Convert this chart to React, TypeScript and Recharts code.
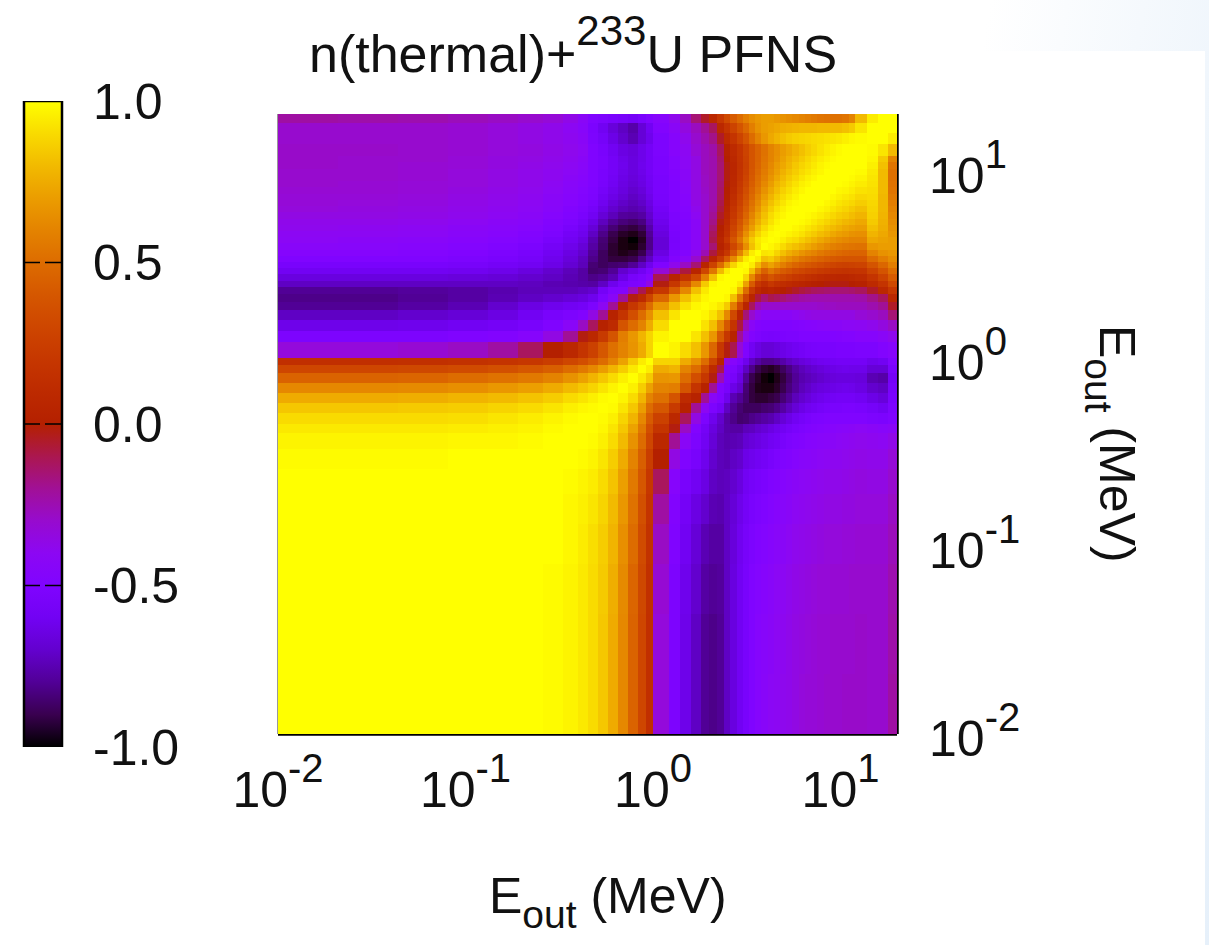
import React from "react";
import { ScatterChart, Scatter, XAxis, YAxis, BarChart, Bar, ReferenceLine } from "recharts";

// Cell edges of the energy grid, as log10(E / MeV)
const logEnergyEdges = [-2, -1.68, -1.36, -1.093, -0.88, -0.72, -0.587, -0.48, -0.4, -0.347, -0.293, -0.24, -0.187, -0.133, -0.08, -0.038, 0,
  0.085, 0.144, 0.202, 0.256, 0.298, 0.341, 0.378, 0.41, 0.448, 0.48, 0.512, 0.544, 0.576, 0.613, 0.645, 0.677, 0.709, 0.741, 0.778, 0.81, 0.842,
  0.874, 0.912, 0.944, 0.976, 1.008, 1.045, 1.077, 1.141, 1.2, 1.253, 1.301];

const energyTicks = [0.01, 0.1, 1, 10];
const energyExponents = ["-2", "-1", "0", "1"];
const colorbarTicks = [-1, -0.5, 0, 0.5, 1];
const colorbarLabels = ["-1.0", "-0.5", "0.0", "0.5", "1.0"];
const colorbarStops = [1, 0.9, 0.8, 0.7, 0.6, 0.5, 0.4, 0.3, 0.2, 0.1, 0, -0.1, -0.2, -0.3, -0.4, -0.5, -0.6, -0.7, -0.8, -0.9, -1];
const colorbarRange = [{ name: "corr", range: [-1, 1] }];

// Lower triangle of the symmetric correlation matrix: row i holds columns 0..i
const row00 = [1];
const row01 = [1, 1];
const row02 = [1, 1, 1];
const row03 = [1, 1, 1, 1];
const row04 = [1, 1, 1, 1, 1];
const row05 = [1, 1, 1, 1, 1, 1];
const row06 = [0.99, 0.99, 0.99, 1, 1, 1, 1];
const row07 = [0.97, 0.97, 0.97, 0.98, 0.98, 0.99, 1, 1];
const row08 = [0.94, 0.94, 0.94, 0.95, 0.96, 0.97, 0.99, 1, 1];
const row09 = [0.9, 0.9, 0.9, 0.91, 0.93, 0.95, 0.97, 0.99, 1, 1];
const row10 = [0.84, 0.84, 0.85, 0.86, 0.88, 0.9, 0.93, 0.96, 0.98, 0.99, 1];
const row11 = [0.75, 0.75, 0.76, 0.78, 0.8, 0.83, 0.86, 0.9, 0.93, 0.96, 0.99, 1];
const row12 = [0.62, 0.62, 0.63, 0.65, 0.68, 0.71, 0.75, 0.8, 0.84, 0.88, 0.93, 0.97, 1];
const row13 = [0.46, 0.46, 0.47, 0.5, 0.53, 0.56, 0.6, 0.66, 0.72, 0.78, 0.84, 0.9, 0.96, 1];
const row14 = [0.3, 0.3, 0.31, 0.33, 0.36, 0.4, 0.44, 0.5, 0.56, 0.62, 0.7, 0.78, 0.86, 0.94, 1];
const row15 = [0.14, 0.14, 0.15, 0.16, 0.18, 0.2, 0.24, 0.3, 0.35, 0.42, 0.5, 0.6, 0.72, 0.85, 0.95, 1];
const row16 = [-0.33, -0.33, -0.31, -0.28, -0.22, -0.12, 0, 0.08, 0.18, 0.27, 0.4, 0.52, 0.6, 0.67, 0.75, 0.88, 1];
const row17 = [-0.52, -0.52, -0.52, -0.5, -0.48, -0.45, -0.35, -0.2, -0.02, 0.08, 0.22, 0.38, 0.58, 0.68, 0.78, 0.88, 0.97, 1];
const row18 = [-0.63, -0.63, -0.62, -0.6, -0.58, -0.55, -0.5, -0.42, -0.28, -0.12, 0.02, 0.1, 0.38, 0.5, 0.6, 0.75, 0.9, 1, 1];
const row19 = [-0.72, -0.72, -0.7, -0.68, -0.65, -0.6, -0.55, -0.52, -0.48, -0.35, -0.2, 0.03, 0.18, 0.35, 0.5, 0.65, 0.82, 0.93, 1, 1];
const row20 = [-0.8, -0.8, -0.78, -0.75, -0.7, -0.65, -0.62, -0.6, -0.58, -0.52, -0.4, -0.2, 0.03, 0.2, 0.32, 0.5, 0.68, 0.82, 0.92, 0.98, 1];
const row21 = [-0.82, -0.82, -0.8, -0.78, -0.75, -0.72, -0.7, -0.68, -0.66, -0.62, -0.52, -0.42, -0.2, -0.02, 0.1, 0.28, 0.48, 0.68, 0.82, 0.92, 0.98, 1];
const row22 = [-0.8, -0.8, -0.79, -0.78, -0.76, -0.74, -0.74, -0.74, -0.72, -0.7, -0.58, -0.5, -0.48, -0.25, -0.1, 0.05, 0.2, 0.42, 0.62, 0.82, 0.94, 1, 1];
const row23 = [-0.72, -0.72, -0.72, -0.72, -0.72, -0.73, -0.75, -0.76, -0.77, -0.78, -0.72, -0.62, -0.55, -0.52, -0.5, -0.35, -0.02, 0.2, 0.4, 0.62, 0.85, 0.98, 1, 1];
const row24 = [-0.66, -0.66, -0.66, -0.67, -0.68, -0.7, -0.72, -0.75, -0.78, -0.82, -0.8, -0.75, -0.64, -0.56, -0.52, -0.45, -0.1, 0.04, 0.18, 0.32, 0.58, 0.82, 0.98, 1, 1];
const row25 = [-0.6, -0.6, -0.6, -0.61, -0.63, -0.66, -0.7, -0.74, -0.78, -0.86, -0.85, -0.8, -0.7, -0.65, -0.6, -0.52, -0.32, -0.2, -0.08, 0.05, 0.3, 0.55, 0.8, 0.95, 1, 1];
const row26 = [-0.55, -0.55, -0.55, -0.56, -0.58, -0.6, -0.64, -0.69, -0.74, -0.85, -0.88, -0.86, -0.85, -0.8, -0.72, -0.62, -0.5, -0.38, -0.28, -0.15, 0.05, 0.28, 0.5, 0.72, 0.88, 0.98, 1];
const row27 = [-0.5, -0.5, -0.5, -0.52, -0.54, -0.57, -0.62, -0.67, -0.73, -0.82, -0.88, -0.92, -0.92, -0.9, -0.82, -0.72, -0.6, -0.48, -0.42, -0.3, -0.12, 0.05, 0.22, 0.42, 0.62, 0.82, 0.95, 1];
const row28 = [-0.46, -0.46, -0.47, -0.49, -0.52, -0.55, -0.6, -0.65, -0.7, -0.8, -0.88, -0.94, -0.97, -0.95, -0.9, -0.78, -0.65, -0.52, -0.48, -0.38, -0.25, -0.08, 0.08, 0.2, 0.4, 0.6, 0.8, 0.95, 1];
const row29 = [-0.43, -0.44, -0.45, -0.47, -0.5, -0.53, -0.58, -0.63, -0.68, -0.78, -0.86, -0.94, -0.98, -0.99, -0.94, -0.82, -0.68, -0.54, -0.5, -0.42, -0.3, -0.15, 0.02, 0.12, 0.3, 0.45, 0.65, 0.82, 0.93, 1];
const row30 = [-0.41, -0.42, -0.43, -0.45, -0.47, -0.5, -0.55, -0.6, -0.65, -0.76, -0.85, -0.92, -0.98, -1, -0.96, -0.82, -0.68, -0.55, -0.5, -0.42, -0.3, -0.1, 0.05, 0.2, 0.38, 0.55, 0.72, 0.85, 0.94, 0.98, 1];
const row31 = [-0.4, -0.4, -0.41, -0.43, -0.45, -0.48, -0.52, -0.58, -0.62, -0.72, -0.82, -0.9, -0.95, -0.97, -0.93, -0.8, -0.66, -0.54, -0.5, -0.42, -0.3, -0.12, 0.02, 0.15, 0.32, 0.48, 0.65, 0.78, 0.88, 0.95, 0.99, 1];
const row32 = [-0.38, -0.39, -0.4, -0.42, -0.44, -0.46, -0.5, -0.55, -0.6, -0.68, -0.78, -0.85, -0.9, -0.92, -0.88, -0.77, -0.64, -0.53, -0.5, -0.42, -0.3, -0.15, 0, 0.12, 0.28, 0.42, 0.58, 0.7, 0.82, 0.9, 0.96, 0.99, 1];
const row33 = [-0.37, -0.37, -0.38, -0.4, -0.42, -0.44, -0.48, -0.52, -0.57, -0.64, -0.73, -0.8, -0.84, -0.86, -0.83, -0.73, -0.62, -0.52, -0.5, -0.42, -0.3, -0.18, -0.02, 0.1, 0.24, 0.38, 0.52, 0.65, 0.76, 0.85, 0.92, 0.97, 1, 1];
const row34 = [-0.35, -0.35, -0.36, -0.38, -0.4, -0.42, -0.46, -0.5, -0.54, -0.6, -0.68, -0.74, -0.79, -0.8, -0.78, -0.7, -0.6, -0.52, -0.48, -0.4, -0.3, -0.2, -0.05, 0.07, 0.2, 0.33, 0.47, 0.6, 0.72, 0.82, 0.9, 0.95, 0.98, 1, 1];
const row35 = [-0.33, -0.34, -0.35, -0.37, -0.39, -0.41, -0.44, -0.48, -0.52, -0.57, -0.64, -0.7, -0.74, -0.76, -0.74, -0.67, -0.58, -0.5, -0.47, -0.38, -0.3, -0.22, -0.08, 0.05, 0.18, 0.3, 0.43, 0.55, 0.67, 0.78, 0.86, 0.92, 0.96, 0.99, 1, 1];
const row36 = [-0.32, -0.33, -0.34, -0.36, -0.38, -0.4, -0.43, -0.46, -0.5, -0.54, -0.61, -0.67, -0.71, -0.74, -0.71, -0.65, -0.56, -0.5, -0.46, -0.36, -0.3, -0.23, -0.1, 0.03, 0.15, 0.27, 0.4, 0.52, 0.63, 0.74, 0.82, 0.88, 0.93, 0.97, 0.99, 1, 1];
const row37 = [-0.32, -0.32, -0.33, -0.35, -0.37, -0.39, -0.42, -0.45, -0.48, -0.52, -0.59, -0.64, -0.68, -0.72, -0.69, -0.63, -0.55, -0.5, -0.45, -0.35, -0.3, -0.24, -0.12, 0.01, 0.12, 0.25, 0.37, 0.49, 0.6, 0.7, 0.78, 0.85, 0.9, 0.94, 0.97, 1, 1, 1];
const row38 = [-0.31, -0.31, -0.32, -0.34, -0.36, -0.38, -0.41, -0.44, -0.47, -0.51, -0.57, -0.62, -0.66, -0.7, -0.67, -0.61, -0.54, -0.5, -0.44, -0.35, -0.29, -0.24, -0.13, 0, 0.1, 0.22, 0.34, 0.46, 0.56, 0.66, 0.74, 0.81, 0.87, 0.91, 0.95, 0.98, 1, 1, 1];
const row39 = [-0.3, -0.31, -0.32, -0.33, -0.35, -0.37, -0.4, -0.43, -0.46, -0.5, -0.55, -0.6, -0.65, -0.68, -0.65, -0.6, -0.54, -0.5, -0.43, -0.35, -0.28, -0.24, -0.14, -0.01, 0.08, 0.2, 0.31, 0.43, 0.53, 0.62, 0.7, 0.78, 0.83, 0.88, 0.92, 0.96, 0.98, 1, 1, 1];
const row40 = [-0.3, -0.3, -0.31, -0.33, -0.35, -0.37, -0.39, -0.42, -0.45, -0.5, -0.54, -0.59, -0.64, -0.67, -0.64, -0.59, -0.54, -0.49, -0.42, -0.35, -0.28, -0.24, -0.15, -0.02, 0.07, 0.18, 0.29, 0.41, 0.51, 0.59, 0.67, 0.74, 0.8, 0.85, 0.89, 0.93, 0.96, 0.98, 1, 1, 1];
const row41 = [-0.3, -0.3, -0.31, -0.33, -0.35, -0.37, -0.39, -0.41, -0.44, -0.5, -0.54, -0.58, -0.63, -0.66, -0.63, -0.58, -0.53, -0.48, -0.42, -0.35, -0.27, -0.24, -0.15, -0.02, 0.06, 0.17, 0.27, 0.39, 0.49, 0.57, 0.64, 0.71, 0.77, 0.82, 0.86, 0.9, 0.93, 0.96, 0.98, 1, 1, 1];
const row42 = [-0.29, -0.3, -0.31, -0.32, -0.34, -0.36, -0.38, -0.4, -0.43, -0.5, -0.53, -0.58, -0.62, -0.66, -0.62, -0.58, -0.53, -0.47, -0.41, -0.35, -0.27, -0.24, -0.15, -0.02, 0.06, 0.16, 0.26, 0.38, 0.47, 0.55, 0.62, 0.69, 0.74, 0.79, 0.84, 0.88, 0.91, 0.94, 0.97, 0.99, 1, 1, 1];
const row43 = [-0.29, -0.3, -0.3, -0.32, -0.34, -0.35, -0.37, -0.39, -0.42, -0.5, -0.53, -0.58, -0.63, -0.66, -0.63, -0.58, -0.53, -0.47, -0.41, -0.35, -0.27, -0.24, -0.14, 0, 0.08, 0.17, 0.27, 0.38, 0.46, 0.54, 0.6, 0.66, 0.72, 0.77, 0.81, 0.85, 0.89, 0.92, 0.95, 0.97, 0.99, 1, 1, 1];
const row44 = [-0.29, -0.29, -0.3, -0.31, -0.33, -0.34, -0.36, -0.38, -0.41, -0.5, -0.54, -0.6, -0.65, -0.67, -0.63, -0.58, -0.52, -0.45, -0.4, -0.32, -0.27, -0.23, -0.12, 0.02, 0.1, 0.18, 0.28, 0.38, 0.46, 0.53, 0.6, 0.65, 0.7, 0.74, 0.78, 0.82, 0.86, 0.89, 0.92, 0.95, 0.97, 0.99, 1, 1, 1];
const row45 = [-0.3, -0.3, -0.3, -0.31, -0.33, -0.35, -0.37, -0.39, -0.42, -0.52, -0.57, -0.64, -0.7, -0.75, -0.68, -0.62, -0.52, -0.45, -0.38, -0.3, -0.24, -0.18, -0.05, 0.1, 0.18, 0.28, 0.38, 0.5, 0.6, 0.68, 0.74, 0.78, 0.82, 0.85, 0.87, 0.88, 0.89, 0.9, 0.91, 0.92, 0.93, 0.94, 0.96, 0.98, 0.99, 1];
const row46 = [-0.3, -0.3, -0.3, -0.31, -0.33, -0.35, -0.37, -0.4, -0.44, -0.53, -0.6, -0.67, -0.72, -0.77, -0.68, -0.6, -0.48, -0.42, -0.34, -0.27, -0.2, -0.12, 0.08, 0.18, 0.28, 0.38, 0.48, 0.58, 0.66, 0.7, 0.72, 0.74, 0.76, 0.77, 0.78, 0.79, 0.79, 0.79, 0.8, 0.8, 0.8, 0.8, 0.82, 0.85, 0.93, 1, 1];
const row47 = [-0.22, -0.23, -0.24, -0.26, -0.28, -0.3, -0.32, -0.36, -0.42, -0.5, -0.52, -0.54, -0.56, -0.58, -0.54, -0.5, -0.45, -0.38, -0.28, -0.15, -0.05, 0.08, 0.2, 0.32, 0.42, 0.5, 0.58, 0.64, 0.68, 0.7, 0.7, 0.68, 0.66, 0.64, 0.62, 0.6, 0.58, 0.56, 0.54, 0.53, 0.52, 0.52, 0.54, 0.6, 0.8, 0.95, 1, 1];

const lowerRows = [row00, row01, row02, row03, row04, row05, row06, row07, row08, row09, row10, row11, row12, row13, row14, row15,
  row16, row17, row18, row19, row20, row21, row22, row23, row24, row25, row26, row27, row28, row29, row30, row31,
  row32, row33, row34, row35, row36, row37, row38, row39, row40, row41, row42, row43, row44, row45, row46, row47];

type CellPoint = { ex: number; ey: number; value: number; logW: number; logH: number };
const cellPoints: CellPoint[] = [];
const cellCount = logEnergyEdges.length - 1;
for (let i = 0; i < cellCount; i++) {
  for (let j = 0; j < cellCount; j++) {
    const value = i >= j ? lowerRows[i][j] : lowerRows[j][i];
    cellPoints.push({
      ex: Math.pow(10, (logEnergyEdges[j] + logEnergyEdges[j + 1]) / 2),
      ey: Math.pow(10, (logEnergyEdges[i] + logEnergyEdges[i + 1]) / 2),
      value: value === undefined ? 1 : value,
      logW: logEnergyEdges[j + 1] - logEnergyEdges[j],
      logH: logEnergyEdges[i + 1] - logEnergyEdges[i],
    });
  }
}

// gnuplot's default pm3d palette (rgbformulae 7,5,15)
const paletteColor = (v: number) => {
  const t = Math.max(0, Math.min(1, (v + 1) / 2));
  const r = Math.round(255 * Math.sqrt(t));
  const g = Math.round(255 * t * t * t);
  const b = Math.round(255 * Math.max(0, Math.sin(2 * Math.PI * t)));
  return `rgb(${r},${g},${b})`;
};

const FONT = "'Liberation Sans', Arial, sans-serif";
const PLOT_LEFT = 278, PLOT_RIGHT = 897, PLOT_TOP = 114, PLOT_BOTTOM = 734;
const domainLo = 0.01, domainHi = 20;
const pxPerLogX = (PLOT_RIGHT - PLOT_LEFT) / Math.log10(domainHi / domainLo);
const pxPerLogY = (PLOT_BOTTOM - PLOT_TOP) / Math.log10(domainHi / domainLo);

const HeatCell = (props: any) => {
  const { cx, cy, payload } = props;
  const x0 = Math.round(cx - (payload.logW * pxPerLogX) / 2);
  const x1 = Math.round(cx + (payload.logW * pxPerLogX) / 2);
  const y0 = Math.round(cy - (payload.logH * pxPerLogY) / 2);
  const y1 = Math.round(cy + (payload.logH * pxPerLogY) / 2);
  return <rect x={x0} y={y0} width={x1 - x0} height={y1 - y0} fill={paletteColor(payload.value)} shapeRendering="crispEdges" />;
};

const XTick = (props: any) => {
  const { x, payload } = props;
  const exp = energyExponents[energyTicks.indexOf(payload.value)];
  return (
    <text x={x} y={807} textAnchor="middle" fontFamily={FONT} fontSize={50} fill="#111">
      <tspan>10</tspan>
      <tspan dy={-25} fontSize={40}>{exp}</tspan>
    </text>
  );
};

const YTick = (props: any) => {
  const { y, payload } = props;
  const exp = energyExponents[energyTicks.indexOf(payload.value)];
  return (
    <text x={929} y={y + 22} textAnchor="start" fontFamily={FONT} fontSize={50} fill="#111">
      <tspan>10</tspan>
      <tspan dy={-25} fontSize={40}>{exp}</tspan>
    </text>
  );
};

const BarTick = (props: any) => {
  const { y, payload } = props;
  return (
    <text x={93} y={y + 17.5} textAnchor="start" fontFamily={FONT} fontSize={50} fill="#111">
      {colorbarLabels[colorbarTicks.indexOf(payload.value)]}
    </text>
  );
};

export default function App() {
  return (
    <div style={{ position: "fixed", left: 0, top: 0, width: 1209, height: 945, overflow: "hidden", background: "linear-gradient(100deg, #ffffff 72%, #e6f0fa 100%)" }}>
      <div style={{ position: "absolute", left: 0, top: 51, width: 1205, height: 894, background: "#fff" }} />
      <div style={{ position: "absolute", left: 0, top: 0 }}>
        <ScatterChart
          width={1209}
          height={945}
          margin={{ top: PLOT_TOP, left: PLOT_LEFT, right: 1209 - PLOT_RIGHT - 150, bottom: 945 - PLOT_BOTTOM - 100 }}
        >
          <XAxis
            type="number"
            dataKey="ex"
            scale="log"
            domain={[domainLo, domainHi]}
            ticks={energyTicks}
            allowDataOverflow
            height={100}
            tickLine={false}
            axisLine={{ stroke: "#000", strokeWidth: 3 }}
            tick={<XTick />}
            interval={0}
          />
          <YAxis
            type="number"
            dataKey="ey"
            scale="log"
            orientation="right"
            domain={[domainLo, domainHi]}
            ticks={energyTicks}
            allowDataOverflow
            width={150}
            tickLine={false}
            axisLine={{ stroke: "#000", strokeWidth: 3 }}
            tick={<YTick />}
            interval={0}
          />
          <Scatter data={cellPoints} isAnimationActive={false} shape={<HeatCell />} />
          <ReferenceLine x={domainLo} stroke="#333" strokeWidth={1} />
          <ReferenceLine x={domainHi} stroke="#000" strokeWidth={3} />
          <ReferenceLine y={domainLo} stroke="#000" strokeWidth={3} />
          <text x={309} y={72} fontFamily={FONT} fontSize={52} fill="#111">
            <tspan>n(thermal)+</tspan>
            <tspan dy={-27} fontSize={42}>233</tspan>
            <tspan dy={27}>U PFNS</tspan>
          </text>
          <text x={489} y={913} fontFamily={FONT} fontSize={50} fill="#111">
            <tspan>E</tspan>
            <tspan dy={15} fontSize={39}>out</tspan>
            <tspan dy={-15}> (MeV)</tspan>
          </text>
          <text x={1100} y={325} transform="rotate(90 1100 325)" fontFamily={FONT} fontSize={50} fill="#111">
            <tspan>E</tspan>
            <tspan dy={15} fontSize={39}>out</tspan>
            <tspan dy={-15}> (MeV)</tspan>
          </text>
        </ScatterChart>
      </div>
      <div style={{ position: "absolute", left: 0, top: 0 }}>
        <BarChart
          width={240}
          height={800}
          data={colorbarRange}
          margin={{ top: 101, left: 24, right: 18, bottom: 53 }}
          barCategoryGap={0}
        >
          <defs>
            <linearGradient id="corrGradient" x1="0" y1="0" x2="0" y2="1">
              {colorbarStops.map((v, i) => (
                <stop key={v} offset={`${(i / (colorbarStops.length - 1)) * 100}%`} stopColor={paletteColor(v)} />
              ))}
            </linearGradient>
          </defs>
          <XAxis dataKey="name" hide />
          <YAxis
            type="number"
            orientation="right"
            domain={[-1, 1]}
            ticks={colorbarTicks}
            allowDataOverflow
            width={160}
            tickLine={false}
            axisLine={false}
            tick={<BarTick />}
            interval={0}
          />
          <Bar dataKey="range" isAnimationActive={false} fill="url(#corrGradient)" stroke="#000" strokeWidth={2.5} />
          {[0.5, 0, -0.5].map((v) => (
            <ReferenceLine key={v} y={v} stroke="#000" strokeWidth={1.5} strokeDasharray="17 5 17" />
          ))}
        </BarChart>
      </div>
    </div>
  );
}
